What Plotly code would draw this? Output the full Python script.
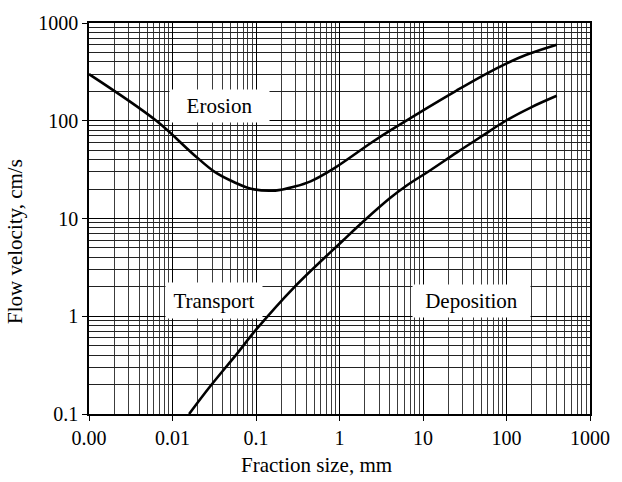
import plotly.graph_objects as go

# Erosion (upper) curve: fraction size (mm) vs flow velocity (cm/s)
erosion_x = [0.001, 0.0064, 0.018, 0.032, 0.055, 0.09, 0.17, 0.29, 0.45, 0.85, 2.5, 4.3, 25.5, 75, 170, 400]
erosion_y = [300, 100, 45, 30, 23.5, 20, 19.3, 21.2, 24, 32.4, 61, 82, 205, 342, 470, 600]

# Deposition (lower) curve
deposition_x = [0.0158, 0.028, 0.06, 0.099, 0.29, 1.11, 2.0, 4.0, 6.2, 12, 25.5, 50, 98, 200, 400]
deposition_y = [0.1, 0.19, 0.42, 0.72, 2.0, 6.0, 9.6, 16.1, 21.4, 30.8, 47.5, 69, 100, 138, 180]

x_tick_vals = [0.001, 0.01, 0.1, 1, 10, 100, 1000]
x_tick_text = ["0.00", "0.01", "0.1", "1", "10", "100", "1000"]
y_tick_vals = [0.1, 1, 10, 100, 1000]
y_tick_text = ["0.1", "1", "10", "100", "1000"]

region_labels = ["Erosion", "Transport", "Deposition"]
region_lx = [-1.433, -1.503, 1.585]   # log10 positions
region_ly = [2.148, 0.165, 0.154]
region_w = [97, 94, 115]
region_h = [30, 33, 30]


def minor_vals(lo, hi):
    vals = []
    for e in range(lo, hi):
        for k in range(2, 10):
            vals.append(k * 10.0 ** e)
    return vals


fig = go.Figure()
fig.add_trace(go.Scatter(x=erosion_x, y=erosion_y, mode="lines",
                         line=dict(color="black", width=2.6, shape="spline", smoothing=1.0)))
fig.add_trace(go.Scatter(x=deposition_x, y=deposition_y, mode="lines",
                         line=dict(color="black", width=2.6, shape="spline", smoothing=1.0)))

font_family = "Liberation Serif"
fs = 21
tfs = 20

fig.update_layout(
    width=622, height=482,
    margin=dict(l=89, r=20, t=23, b=68),
    paper_bgcolor="white", plot_bgcolor="white",
    showlegend=False,
    font=dict(family=font_family, size=fs, color="black"),
)

fig.update_xaxes(
    type="log", range=[-3, 3],
    tickmode="array", tickvals=x_tick_vals, ticktext=x_tick_text,
    ticks="outside", ticklen=5, tickcolor="black", tickwidth=1,
    showline=True, linecolor="black", linewidth=1.5, mirror=True,
    showgrid=True, gridcolor="black", gridwidth=1, zeroline=False,
    minor=dict(tickmode="array", tickvals=minor_vals(-3, 3), showgrid=True,
               gridcolor="#3c3c3c", gridwidth=1, ticks=""),
    tickfont=dict(size=tfs), ticklabeloverflow="allow",
)
fig.update_yaxes(
    type="log", range=[-1, 3],
    tickmode="array", tickvals=y_tick_vals, ticktext=y_tick_text,
    ticks="outside", ticklen=5, tickcolor="black", tickwidth=1,
    showline=True, linecolor="black", linewidth=1.5, mirror=True,
    showgrid=True, gridcolor="black", gridwidth=1, zeroline=False,
    minor=dict(tickmode="array", tickvals=minor_vals(-1, 3), showgrid=True,
               gridcolor="#222222", gridwidth=1, ticks=""),
    tickfont=dict(size=tfs), ticklabeloverflow="allow",
)

for t, lx, ly, w, h in zip(region_labels, region_lx, region_ly, region_w, region_h):
    fig.add_annotation(x=lx, y=ly, xref="x", yref="y", text=t, showarrow=False,
                       bgcolor="white", width=w, height=h, borderpad=1,
                       font=dict(family=font_family, size=fs, color="black"),
                       xanchor="center", yanchor="middle")

fig.add_annotation(x=0.454, y=-0.130, xref="paper", yref="paper",
                   text="Fraction size, mm", showarrow=False,
                   font=dict(family=font_family, size=fs, color="black"),
                   xanchor="center", yanchor="middle")
fig.add_annotation(x=-0.148, y=0.442, xref="paper", yref="paper",
                   text="Flow velocity, cm/s", showarrow=False, textangle=-90,
                   font=dict(family=font_family, size=fs, color="black"),
                   xanchor="center", yanchor="middle")

fig.write_html("out.html")
